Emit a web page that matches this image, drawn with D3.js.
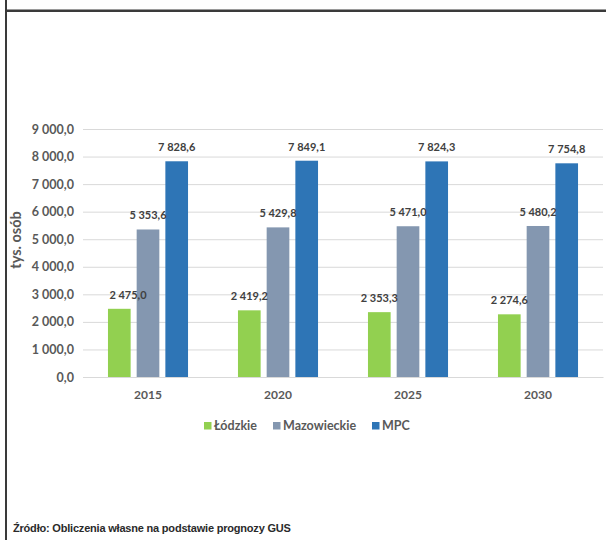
<!DOCTYPE html>
<html>
<head>
<meta charset="utf-8">
<script src="https://cdn.jsdelivr.net/npm/d3@7"></script>
<style>
  body { margin: 0; background: #fff; }
  text { font-family: Lato, "Open Sans", sans-serif; }
</style>
</head>
<body>
<div id="chart"></div>
<script>
// ******************************** DATA ***************************************
var years = ["2015", "2020", "2025", "2030"];
var seriesNames = ["Łódzkie", "Mazowieckie", "MPC"];
var lodzkie = [2475.0, 2419.2, 2353.3, 2274.6];
var mazowieckie = [5353.6, 5429.8, 5471.0, 5480.2];
var mpc = [7828.6, 7849.1, 7824.3, 7754.8];
var yTicks = [0, 1000, 2000, 3000, 4000, 5000, 6000, 7000, 8000, 9000];
var colors = ["#92d050", "#8497b0", "#2e75b6"];

// ***************************** CANVAS SET UP *********************************
var svgWidth = 606, svgHeight = 540;
var margin = {left: 83, right: 3, top: 129, bottom: 163};
var chartWidth = svgWidth - margin.left - margin.right,
    chartHeight = svgHeight - margin.top - margin.bottom;

var svg = d3.select("#chart")
  .append("svg")
    .attr("width", svgWidth)
    .attr("height", svgHeight);

// frame lines (top and left)
svg.append("line")
  .attr("x1", 6).attr("x2", svgWidth).attr("y1", 9.5).attr("y2", 9.5)
  .attr("stroke", "#9a9a9a").attr("stroke-width", 1);
svg.append("line")
  .attr("x1", 6).attr("x2", svgWidth).attr("y1", 11).attr("y2", 11)
  .attr("stroke", "#3a3a3a").attr("stroke-width", 2);
svg.append("line")
  .attr("x1", 6).attr("x2", 6).attr("y1", 0).attr("y2", svgHeight)
  .attr("stroke", "#3a3a3a").attr("stroke-width", 2);

var chart = svg.append("g")
  .attr("transform", `translate(${margin.left}, ${margin.top})`);

// ******************************** SCALES *************************************
var x0 = d3.scaleBand()
  .domain(years)
  .range([0, chartWidth]);

var x1 = d3.scaleBand()
  .domain(seriesNames)
  .range([0, x0.bandwidth()])
  .paddingInner(0.21)
  .paddingOuter(0.87);

var y = d3.scaleLinear()
  .domain([0, 9000])
  .range([chartHeight, 0]);

var fmt = function(v) {
  return d3.format(",.1f")(v).replace(/,/g, " ").replace(".", ",");
};

// ********************************* AXES **************************************
var yAxis = d3.axisLeft(y)
  .tickValues(yTicks)
  .tickSize(-chartWidth)
  .tickPadding(9)
  .tickFormat(fmt);

chart.append("g")
  .attr("class", "y-axis")
  .call(yAxis)
  .call(g => g.select(".domain").remove())
  .call(g => g.selectAll(".tick line").attr("stroke", "#d9d9d9"))
  .call(g => g.selectAll(".tick text")
    .attr("fill", "#595959")
    .attr("font-size", 12.5)
    .attr("font-weight", 700)
    .style("font-family", "Lato, sans-serif"));

var xAxis = d3.axisBottom(x0).tickSize(0).tickPadding(13);
chart.append("g")
  .attr("transform", `translate(0, ${chartHeight})`)
  .call(xAxis)
  .call(g => g.select(".domain").attr("stroke", "#d9d9d9"))
  .call(g => g.selectAll(".tick text")
    .attr("fill", "#595959")
    .attr("font-size", 12)
    .attr("font-weight", 700)
    .style("font-family", "Lato, sans-serif"));

// y axis title
chart.append("text")
  .attr("transform", `translate(${17 - margin.left}, ${240 - margin.top}) rotate(-90)`)
  .attr("text-anchor", "middle")
  .attr("dominant-baseline", "middle")
  .attr("fill", "#595959")
  .attr("font-size", 14.5)
  .attr("font-weight", 700)
  .text("tys. osób");

// ********************************* BARS **************************************
var rows = years.map(function(yr, i) {
  return {year: yr, values: [lodzkie[i], mazowieckie[i], mpc[i]]};
});

var groups = chart.selectAll(".group")
  .data(rows)
  .enter()
  .append("g")
    .attr("class", "group")
    .attr("transform", d => `translate(${x0(d.year)}, 0)`);

groups.selectAll("rect")
  .data(d => d.values.map((v, j) => ({name: seriesNames[j], value: v, j: j})))
  .enter()
  .append("rect")
    .attr("x", d => x1(d.name))
    .attr("y", d => y(d.value))
    .attr("width", x1.bandwidth())
    .attr("height", d => chartHeight - y(d.value))
    .attr("fill", d => colors[d.j]);

// value labels (kept clear of the left edge of the plot)
groups.selectAll(".val")
  .data((d, i) => d.values.map((v, j) => ({name: seriesNames[j], value: v, g: i})))
  .enter()
  .append("text")
    .attr("class", "val")
    .attr("x", function(d) {
      var cx = x1(d.name) + x1.bandwidth() / 2;
      return d.g === 0 ? Math.max(cx, 45) : cx;
    })
    .attr("y", d => y(d.value) - 10)
    .attr("text-anchor", "middle")
    .attr("fill", "#404040")
    .attr("font-size", 11)
    .attr("font-weight", 700)
    .text(d => fmt(d.value));

// ******************************** LEGEND *************************************
var legendX = [204, 273, 372];
var legend = svg.append("g");
seriesNames.forEach(function(name, i) {
  legend.append("rect")
    .attr("x", legendX[i]).attr("y", 422)
    .attr("width", 7.5).attr("height", 7.5)
    .attr("fill", colors[i]);
  legend.append("text")
    .attr("x", legendX[i] + 10).attr("y", 430)
    .attr("fill", "#595959")
    .attr("font-size", 12.5)
    .attr("font-weight", 700)
    .text(name);
});

// ******************************** SOURCE *************************************
svg.append("text")
  .attr("x", 13).attr("y", 532)
  .attr("fill", "#2a2a2a")
  .attr("font-size", 11)
  .attr("font-weight", 700)
  .attr("letter-spacing", -0.2)
  .style("font-family", "'Liberation Sans', Arial, sans-serif")
  .text("Źródło: Obliczenia własne na podstawie prognozy GUS");
</script>
</body>
</html>
